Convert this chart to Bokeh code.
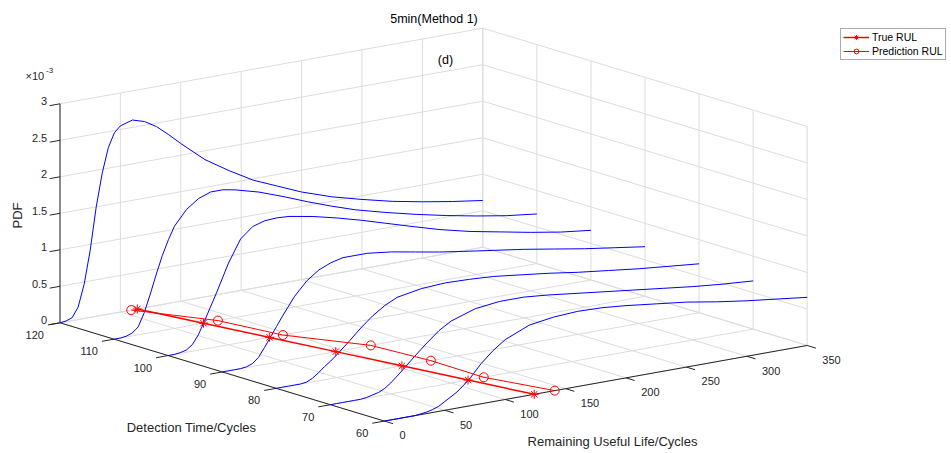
import numpy as np
from bokeh.plotting import figure
from bokeh.models import Range1d, Legend, LegendItem
from bokeh.core.properties import value
from bokeh.embed import file_html
from bokeh.resources import INLINE

# ---------------- data ----------------
detection_times = [120, 110, 100, 90, 80, 70, 60]
rul_grid = [0, 5, 10, 15, 20, 25, 30, 35, 40, 45, 50, 60, 70, 80, 90, 100,
            120, 140, 160, 180, 200, 225, 250, 275, 300, 325, 350]
# PDF values in units of 1e-3, one list per detection time
pdf_dt120 = [0, 0.01, 0.04, 0.17, 0.47, 0.92, 1.50, 1.95, 2.28, 2.47, 2.55, 2.60, 2.55, 2.45, 2.31, 2.16,
             1.88, 1.67, 1.48, 1.34, 1.20, 1.06, 0.95, 0.85, 0.77, 0.70, 0.64]
pdf_dt110 = [0, 0, 0.01, 0.04, 0.11, 0.29, 0.53, 0.79, 1.03, 1.23, 1.40, 1.60, 1.72, 1.78, 1.78, 1.75,
             1.66, 1.54, 1.41, 1.29, 1.18, 1.07, 0.97, 0.88, 0.80, 0.73, 0.68]
pdf_dt100 = [0, 0, 0.01, 0.03, 0.09, 0.21, 0.38, 0.56, 0.74, 0.93, 1.12, 1.42, 1.56, 1.61, 1.62, 1.61,
             1.55, 1.47, 1.38, 1.28, 1.18, 1.06, 0.96, 0.88, 0.80, 0.73, 0.68]
pdf_dt90 = [0, 0, 0, 0, 0.01, 0.04, 0.11, 0.23, 0.36, 0.49, 0.62, 0.86, 1.04, 1.16, 1.23, 1.27,
            1.27, 1.23, 1.17, 1.11, 1.06, 1.00, 0.94, 0.87, 0.80, 0.74, 0.68]
pdf_dt80 = [0, 0, 0, 0, 0, 0.01, 0.05, 0.11, 0.18, 0.24, 0.31, 0.46, 0.62, 0.76, 0.87, 0.95,
            1.01, 1.03, 1.02, 1.00, 0.96, 0.91, 0.85, 0.80, 0.75, 0.71, 0.67]
pdf_dt70 = [0, 0, 0, 0, 0, 0, 0.01, 0.03, 0.05, 0.09, 0.15, 0.30, 0.46, 0.61, 0.75, 0.85,
            0.96, 1.00, 1.00, 0.97, 0.93, 0.88, 0.83, 0.78, 0.73, 0.69, 0.66]
pdf_dt60 = [0, 0, 0, 0, 0, 0, 0.01, 0.02, 0.04, 0.07, 0.12, 0.22, 0.36, 0.55, 0.70, 0.82,
            0.96, 1.01, 1.03, 1.02, 0.99, 0.94, 0.89, 0.82, 0.76, 0.71, 0.66]
pdf_curves = [pdf_dt120, pdf_dt110, pdf_dt100, pdf_dt90, pdf_dt80, pdf_dt70, pdf_dt60]

true_rul = [64, 74, 84, 94, 104, 114, 124]
pred_rul = [59, 86, 95, 123, 128, 127, 141]

rul_ticks = [0, 50, 100, 150, 200, 250, 300, 350]
dt_ticks = [60, 70, 80, 90, 100, 110, 120]
pdf_ticks = [0, 0.5, 1, 1.5, 2, 2.5, 3]
pdf_tick_labels = ["0", "0.5", "1", "1.5", "2", "2.5", "3"]
rul_tick_labels = [str(v) for v in rul_ticks]
dt_tick_labels = [str(v) for v in dt_ticks]

RUL_MIN, RUL_MAX = 0, 350
DT_MIN, DT_MAX = 60, 120
PDF_MIN, PDF_MAX = 0, 3

# ---------------- 3-D view (orthographic projection to page pixels) ----------------
ORIGIN = (59.5, 322.3)          # corner RUL=0, DT=120, PDF=0
R_VEC = (422.8 / 350, -75.6 / 350)
D_VEC = (-5.407, -1.638)        # per +1 cycle of detection time
Z_VEC = (0.0, -73.0)            # per 1e-3 of PDF


def proj(r, d, z):
    shape = np.broadcast(np.asarray(r), np.asarray(d), np.asarray(z)).shape
    r = np.broadcast_to(np.asarray(r, float), shape)
    d = np.broadcast_to(np.asarray(d, float), shape)
    z = np.broadcast_to(np.asarray(z, float), shape)
    x = ORIGIN[0] + r * R_VEC[0] + (d - DT_MAX) * D_VEC[0] + z * Z_VEC[0]
    y = ORIGIN[1] + r * R_VEC[1] + (d - DT_MAX) * D_VEC[1] + z * Z_VEC[1]
    return x, y


W, H = 951, 453
p = figure(width=W, height=H, x_range=Range1d(0, W), y_range=Range1d(H, 0),
           output_backend="svg", toolbar_location=None, min_border=0,
           x_axis_type=None, y_axis_type=None)
p.outline_line_color = None
p.background_fill_color = "white"
p.border_fill_color = "white"

FONT_NAME = "Liberation Sans"
FONT = value(FONT_NAME)
AX_COLOR = "#262626"
GRID_COLOR = "#dcdcdc"

# ---------------- grid ----------------
gx, gy = [], []


def seg(store_x, store_y, a, b):
    x, y = proj([a[0], b[0]], [a[1], b[1]], [a[2], b[2]])
    store_x.append(list(x))
    store_y.append(list(y))


for r in rul_ticks:
    seg(gx, gy, (r, DT_MAX, PDF_MIN), (r, DT_MAX, PDF_MAX))
    seg(gx, gy, (r, DT_MIN, PDF_MIN), (r, DT_MAX, PDF_MIN))
for z in pdf_ticks:
    seg(gx, gy, (RUL_MIN, DT_MAX, z), (RUL_MAX, DT_MAX, z))
    seg(gx, gy, (RUL_MAX, DT_MIN, z), (RUL_MAX, DT_MAX, z))
for d in dt_ticks:
    seg(gx, gy, (RUL_MAX, d, PDF_MIN), (RUL_MAX, d, PDF_MAX))
    seg(gx, gy, (RUL_MIN, d, PDF_MIN), (RUL_MAX, d, PDF_MIN))
p.multi_line(gx, gy, line_color=GRID_COLOR, line_width=1)

# ---------------- axes + ticks ----------------
axx, axy = [], []
seg(axx, axy, (RUL_MIN, DT_MAX, PDF_MIN), (RUL_MIN, DT_MAX, PDF_MAX))
seg(axx, axy, (RUL_MIN, DT_MAX, PDF_MIN), (RUL_MIN, DT_MIN, PDF_MIN))
seg(axx, axy, (RUL_MIN, DT_MIN, PDF_MIN), (RUL_MAX, DT_MIN, PDF_MIN))
TICK_R = 8.5
TICK_R2 = 10.0
TICK_D = 1.6
for z in pdf_ticks:
    seg(axx, axy, (RUL_MIN, DT_MAX, z), (RUL_MIN - TICK_R, DT_MAX, z))
for d in dt_ticks:
    seg(axx, axy, (RUL_MIN, d, PDF_MIN), (RUL_MIN - TICK_R2, d, PDF_MIN))
for r in rul_ticks:
    seg(axx, axy, (r, DT_MIN, PDF_MIN), (r, DT_MIN - TICK_D, PDF_MIN))
p.multi_line(axx, axy, line_color=AX_COLOR, line_width=1)

# tick labels
zx, zy = proj(RUL_MIN - TICK_R, DT_MAX, pdf_ticks)
p.text(x=zx - 2.5, y=zy - 4.5, text=pdf_tick_labels, text_font=FONT, text_font_size=value("11px"),
       text_color=AX_COLOR, text_align="right", text_baseline="middle")
dx, dy = proj(RUL_MIN - TICK_R2, dt_ticks, PDF_MIN)
p.text(x=dx - 4, y=dy + 10, text=dt_tick_labels, text_font=FONT, text_font_size=value("11px"),
       text_color=AX_COLOR, text_align="right", text_baseline="middle")
rx, ry = proj(rul_ticks, DT_MIN - TICK_D, PDF_MIN)
p.text(x=rx + 6.5, y=ry + 11.7, text=rul_tick_labels, text_font=FONT, text_font_size=value("11px"),
       text_color=AX_COLOR, text_align="left", text_baseline="middle")

# exponent
p.text(x=[25], y=[75], text=["\u00d710"], text_font=FONT, text_font_size=value("11px"),
       text_color=AX_COLOR, text_align="left", text_baseline="middle")
p.text(x=[45.5], y=[69.5], text=["-3"], text_font=FONT, text_font_size=value("8px"),
       text_color=AX_COLOR, text_align="left", text_baseline="middle")

# axis labels & title
p.text(x=[17], y=[215], text=["PDF"], angle=np.pi / 2, text_font=FONT, text_font_size=value("13px"),
       text_color=AX_COLOR, text_align="center", text_baseline="middle")
p.text(x=[191], y=[427], text=["Detection Time/Cycles"], text_font=FONT, text_font_size=value("13px"),
       text_color=AX_COLOR, text_align="center", text_baseline="middle")
p.text(x=[612], y=[441], text=["Remaining Useful Life/Cycles"], text_font=FONT, text_font_size=value("13px"),
       text_color=AX_COLOR, text_align="center", text_baseline="middle")
p.text(x=[433.5], y=[18], text=["5min(Method 1)"], text_font=FONT, text_font_size=value("12.5px"),
       text_color="#000000", text_align="center", text_baseline="middle")
p.text(x=[445], y=[59], text=["(d)"], text_font=FONT, text_font_size=value("12.5px"),
       text_color="#000000", text_align="center", text_baseline="middle")

# ---------------- PDF curves ----------------
for d, curve in zip(detection_times, pdf_curves):
    cx, cy = proj(rul_grid, d, curve)
    p.line(cx, cy, line_color="#0000ff", line_width=1)

# ---------------- RUL markers ----------------
tx, ty = proj(true_rul, detection_times, 0)
px_, py_ = proj(pred_rul, detection_times, 0)
l_true = p.line(tx, ty, line_color="#ff0000", line_width=1.5)
s_true = p.scatter(tx, ty, marker="asterisk", size=9, line_color="#ff0000", line_width=1)
l_pred = p.line(px_, py_, line_color="#ff0000", line_width=1)
s_pred = p.scatter(px_, py_, marker="circle", size=9, line_color="#ff0000", fill_color=None, line_width=1)

legend = Legend(items=[LegendItem(label="True RUL", renderers=[l_true, s_true]),
                       LegendItem(label="Prediction RUL", renderers=[l_pred, s_pred])],
                location=(840, 393), orientation="vertical",
                label_text_font=FONT_NAME, label_text_font_size="10.5px", label_text_color="#000000",
                glyph_width=26, glyph_height=12, label_height=12, label_standoff=3,
                padding=2, spacing=2, margin=0,
                border_line_color="#555555", border_line_width=1,
                background_fill_color="white", background_fill_alpha=1.0)
p.add_layout(legend, "center")

open("out.html", "w").write(file_html(p, INLINE))
